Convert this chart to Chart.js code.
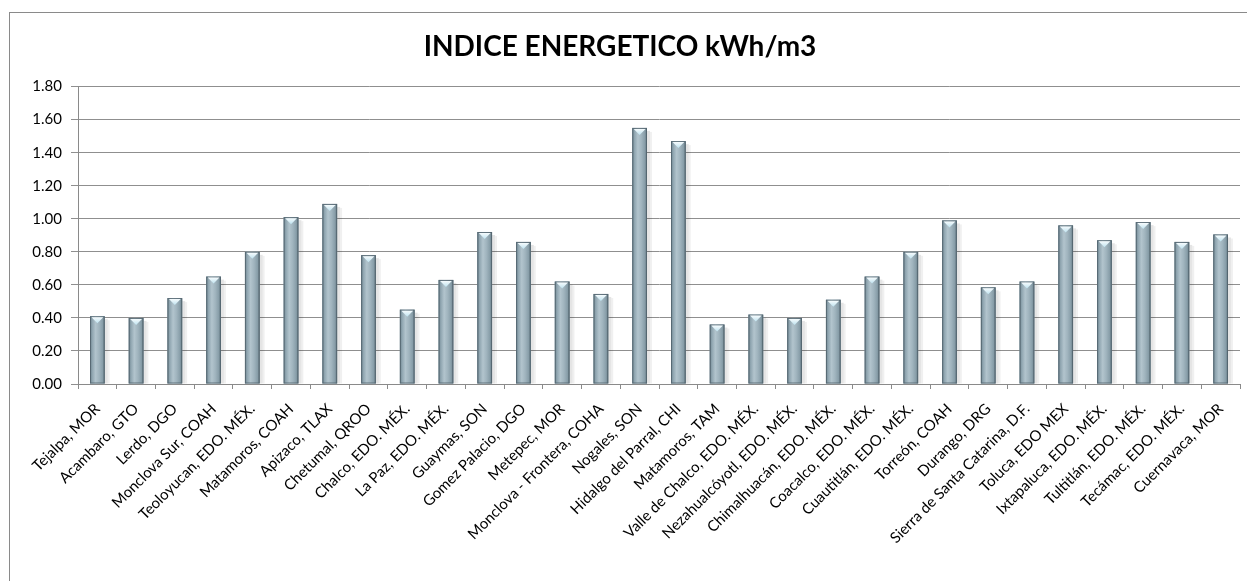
<!DOCTYPE html>
<html>
<head>
<meta charset="utf-8">
<script src="https://cdn.jsdelivr.net/npm/chart.js@4/dist/chart.umd.min.js"></script>
<style>
  html, body { margin: 0; padding: 0; background: #fff; overflow: hidden; }
  #wrap { width: 1247px; height: 581px; }
</style>
</head>
<body>
<div id="wrap"><canvas id="chart"></canvas></div>
<script>
const chartTitle = "INDICE ENERGETICO kWh/m3"

const plants = [
  "Tejalpa, MOR", "Acambaro, GTO", "Lerdo, DGO", "Monclova Sur, COAH",
  "Teoloyucan, EDO. MÉX.", "Matamoros, COAH", "Apizaco, TLAX", "Chetumal, QROO",
  "Chalco, EDO. MÉX.", "La Paz, EDO. MÉX.", "Guaymas, SON", "Gomez Palacio, DGO",
  "Metepec, MOR", "Monclova - Frontera, COHA", "Nogales, SON", "Hidalgo del Parral, CHI",
  "Matamoros, TAM", "Valle de Chalco, EDO. MÉX.", "Nezahualcóyotl, EDO. MÉX.",
  "Chimalhuacán, EDO. MÉX.", "Coacalco, EDO. MÉX.", "Cuautitlán, EDO. MÉX.",
  "Torreón, COAH", "Durango, DRG", "Sierra de Santa Catarina, D.F.", "Toluca, EDO MEX",
  "Ixtapaluca, EDO. MÉX.", "Tultitlán, EDO. MÉX.", "Tecámac, EDO. MÉX.", "Cuernavaca, MOR"
]

const energyIndex = [
  0.41, 0.40, 0.52, 0.65, 0.80, 1.01, 1.09, 0.78, 0.45,
  0.63, 0.92, 0.86, 0.62, 0.545, 1.55, 1.47, 0.36, 0.42, 0.40,
  0.51, 0.65, 0.80, 0.99, 0.585, 0.62, 0.96, 0.87, 0.98, 0.86, 0.905
]

const yTicksMin = 0
const yTicksMax = 1.8
const yTicksStep = 0.2

const fontFamily = "Lato, 'Open Sans', sans-serif"

// borde del área del gráfico (como en Excel)
const frame = {
  id: "frame",
  beforeDraw(chart) {
    const ctx = chart.ctx
    ctx.save()
    ctx.strokeStyle = "#8a8a8a"
    ctx.lineWidth = 1
    ctx.strokeRect(9.5, 12.5, 1400, 800)
    ctx.restore()
  }
}

// efecto cilíndrico sobre cada barra
const cylinder = {
  id: "cylinder",
  afterDatasetsDraw(chart) {
    const ctx = chart.ctx
    const meta = chart.getDatasetMeta(0)
    ctx.save()
    meta.data.forEach(bar => {
      const w = bar.width
      const left = bar.x - w / 2
      const right = bar.x + w / 2
      const top = bar.y
      const bottom = bar.base

      // sombra suave a la derecha
      ctx.fillStyle = "rgba(0,0,0,0.10)"
      ctx.fillRect(right, top + 3, 3, bottom - top - 3)
      ctx.fillStyle = "rgba(0,0,0,0.06)"
      ctx.fillRect(right + 3, top + 4, 2, bottom - top - 4)

      const g = ctx.createLinearGradient(left, 0, right, 0)
      g.addColorStop(0, "#6a808b")
      g.addColorStop(0.14, "#8ea4af")
      g.addColorStop(0.38, "#b2c4cd")
      g.addColorStop(0.62, "#a0b4be")
      g.addColorStop(0.86, "#879da8")
      g.addColorStop(1, "#5e727c")
      ctx.fillStyle = g
      ctx.fillRect(left, top, w, bottom - top)

      ctx.strokeStyle = "rgba(80,98,108,0.8)"
      ctx.lineWidth = 1
      ctx.strokeRect(left + 0.5, top + 0.5, w - 1, bottom - top - 1)

      // triángulo claro en la parte superior
      const tg = ctx.createLinearGradient(0, top, 0, top + 7)
      tg.addColorStop(0, "#ffffff")
      tg.addColorStop(1, "#bfe3f0")
      ctx.fillStyle = tg
      ctx.beginPath()
      ctx.moveTo(left + 1.5, top + 1)
      ctx.lineTo(right - 1.5, top + 1)
      ctx.lineTo(bar.x, top + 7)
      ctx.closePath()
      ctx.fill()
    })
    ctx.restore()
  }
}

new Chart(document.getElementById("chart"), {
  type: "bar",
  data: {
    labels: plants,
    datasets: [{
      data: energyIndex,
      backgroundColor: "#9fb3be",
      borderWidth: 0,
      barPercentage: 0.38,
      categoryPercentage: 1.0
    }]
  },
  options: {
    responsive: true,
    maintainAspectRatio: false,
    animation: false,
    layout: {
      padding: { left: 0, right: 7, top: 0, bottom: 0 }
    },
    plugins: {
      legend: { display: false },
      tooltip: { enabled: false },
      title: {
        display: true,
        text: chartTitle,
        color: "#000",
        font: { family: fontFamily, size: 28, weight: "bold" },
        padding: { top: 30, bottom: 23 }
      }
    },
    scales: {
      x: {
        offset: true,
        grid: {
          offset: true,
          drawOnChartArea: false,
          drawTicks: true,
          tickLength: 5,
          color: "#8a8a8a"
        },
        border: { color: "#8a8a8a" },
        ticks: {
          autoSkip: false,
          maxRotation: 45,
          minRotation: 45,
          padding: 11,
          color: "#000",
          font: { family: fontFamily, size: 15 }
        },
        afterFit(scale) {
          scale.height = 197
        }
      },
      y: {
        min: yTicksMin,
        max: yTicksMax,
        ticks: {
          stepSize: yTicksStep,
          padding: 9,
          color: "#000",
          font: { family: fontFamily, size: 15 },
          callback: v => Number(v).toFixed(2)
        },
        grid: {
          color: "#8f8f8f",
          tickLength: 7,
          drawTicks: true
        },
        border: { color: "#8a8a8a" },
        afterFit(scale) {
          scale.width = 78
        }
      }
    }
  },
  plugins: [frame, cylinder]
})
</script>
</body>
</html>
